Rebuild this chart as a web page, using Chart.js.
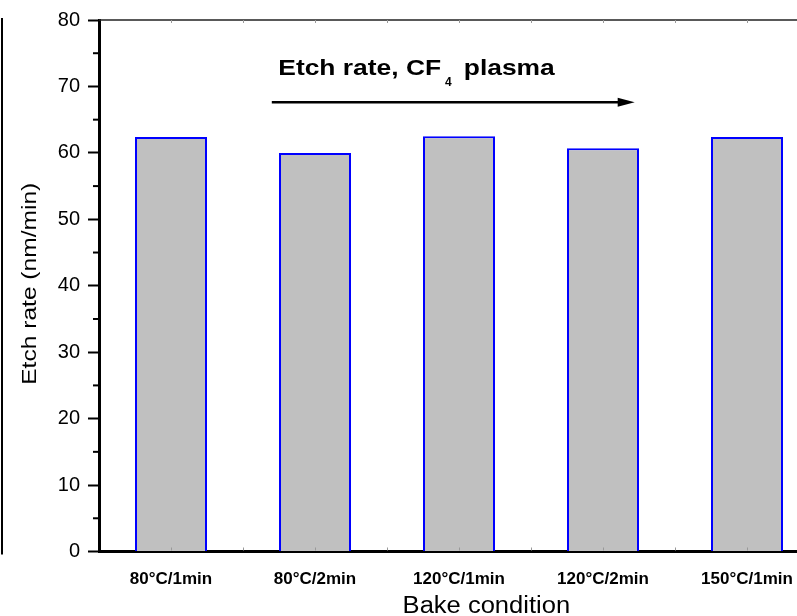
<!DOCTYPE html>
<html>
<head>
<meta charset="utf-8">
<script src="https://cdn.jsdelivr.net/npm/chart.js@4.4.0/dist/chart.umd.min.js"></script>
<style>
  html, body { margin: 0; padding: 0; background: #fff; overflow: hidden; }
  #wrap { position: relative; width: 830px; height: 616px; }
</style>
</head>
<body>
<div id="wrap"><canvas id="myChart"></canvas></div>
<script>
// data
const categories = ["80°C/1min", "80°C/2min", "120°C/1min", "120°C/2min", "150°C/1min"];
const etchRate = [62.4, 60.0, 62.5, 60.7, 62.4];
const yMinorTicks = [5, 15, 25, 35, 45, 55, 65, 75];

const FONT = "'Liberation Sans', Arial, Helvetica, sans-serif";
Chart.defaults.font.family = FONT;
Chart.defaults.color = "#000";

function drawStretched(ctx, text, x, y, sx) {
  ctx.save();
  ctx.translate(x, y);
  ctx.scale(sx, 1);
  ctx.fillText(text, 0, 0);
  ctx.restore();
  return ctx.measureText(text).width * sx;
}

function line(ctx, x1, y1, x2, y2) {
  ctx.beginPath();
  ctx.moveTo(x1, y1);
  ctx.lineTo(x2, y2);
  ctx.stroke();
}

// frame, minor ticks, axis titles and the arrow annotation
const decorations = {
  id: "decorations",
  afterDraw(chart) {
    const {
      ctx,
      chartArea: { top, bottom, left, right },
      scales: { x, y },
    } = chart;
    ctx.save();

    // edge of the neighbouring panel
    ctx.strokeStyle = "#000";
    ctx.lineWidth = 2;
    line(ctx, 2, top - 2, 2, bottom + 3);

    // top frame line
    ctx.strokeStyle = "#222";
    ctx.lineWidth = 1.5;
    line(ctx, left, top, right, top);

    // minor y ticks
    ctx.strokeStyle = "#000";
    ctx.lineWidth = 2;
    yMinorTicks.forEach((v) => {
      const py = y.getPixelForValue(v);
      line(ctx, left - 6, py, left, py);
    });

    // tiny inner ticks on top and bottom
    ctx.strokeStyle = "#999";
    ctx.lineWidth = 1;
    for (let i = 0; i <= categories.length - 0.5; i += 0.5) {
      const px = Math.round(x.getPixelForValue(i)) + 0.5;
      line(ctx, px, top, px, top + 3);
      line(ctx, px, bottom - 4, px, bottom - 1);
    }

    // arrow
    const ax0 = x.getPixelForValue(0.70);
    const ax1 = x.getPixelForValue(3.22);
    const ay = y.getPixelForValue(67.61);
    ctx.strokeStyle = "#000";
    ctx.fillStyle = "#000";
    ctx.lineWidth = 2.5;
    line(ctx, ax0, ay, ax1 - 12, ay);
    ctx.beginPath();
    ctx.moveTo(ax1, ay);
    ctx.lineTo(ax1 - 17, ay - 4.5);
    ctx.lineTo(ax1 - 17, ay + 4.5);
    ctx.closePath();
    ctx.fill();

    // annotation text
    ctx.textAlign = "left";
    ctx.textBaseline = "alphabetic";
    const tx = x.getPixelForValue(0.745);
    const ty = y.getPixelForValue(71.72);
    ctx.font = `bold 22px ${FONT}`;
    const w1 = drawStretched(ctx, "Etch rate, CF", tx, ty, 1.2);
    ctx.font = `bold 12px ${FONT}`;
    const w2 = drawStretched(ctx, "4", tx + w1 + 4, ty + 11, 1.0);
    ctx.font = `bold 22px ${FONT}`;
    drawStretched(ctx, "plasma", tx + w1 + 4 + w2 + 12, ty, 1.2);

    // x axis title
    ctx.font = `23px ${FONT}`;
    ctx.textAlign = "center";
    drawStretched(ctx, "Bake condition", x.getPixelForValue(2.19), bottom + 61.5, 1.11);

    // y axis title
    ctx.save();
    ctx.translate(35.5, (top + bottom) / 2 - 2);
    ctx.rotate(-Math.PI / 2);
    ctx.font = `21px ${FONT}`;
    drawStretched(ctx, "Etch rate (nm/min)", 0, 0, 1.17);
    ctx.restore();

    ctx.restore();
  },
};

const ctxEl = document.getElementById("myChart");
const barChart = new Chart(ctxEl, {
  type: "bar",
  data: {
    labels: categories,
    datasets: [
      {
        label: "Etch rate",
        data: etchRate,
        backgroundColor: "#c0c0c0",
        borderColor: "#0000ff",
        borderWidth: 2,
        barPercentage: 0.5,
        categoryPercentage: 1.0,
      },
    ],
  },
  options: {
    responsive: true,
    maintainAspectRatio: false,
    animation: false,
    layout: { padding: { top: 20, right: 11, left: 0, bottom: 0 } },
    plugins: {
      legend: { display: false },
      tooltip: { enabled: false },
    },
    scales: {
      x: {
        afterFit: (s) => { s.height = 64.5; },
        grid: { display: true, drawOnChartArea: false, drawTicks: false },
        border: { display: true, color: "#000", width: 3 },
        ticks: {
          padding: 18,
          maxRotation: 0,
          autoSkip: false,
          font: { size: 17, weight: "bold" },
        },
      },
      y: {
        min: 0,
        max: 80,
        afterFit: (s) => { s.width = 99; },
        grid: {
          display: true,
          drawOnChartArea: false,
          tickLength: 11,
          tickWidth: 2,
          tickColor: "#000",
        },
        border: { display: true, color: "#000", width: 3 },
        ticks: {
          stepSize: 10,
          padding: 8,
          font: { size: 20 },
        },
      },
    },
  },
  plugins: [decorations],
});
</script>
</body>
</html>
